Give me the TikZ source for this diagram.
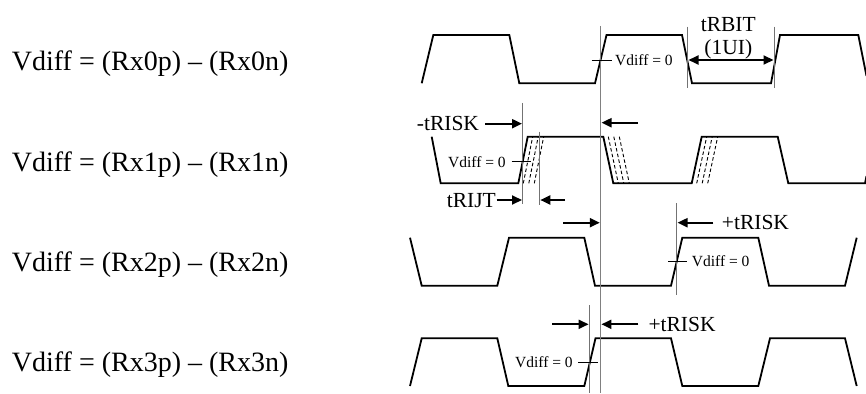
\documentclass[tikz,border=0pt]{standalone}
\usepackage{fontspec}
\setmainfont{Liberation Serif}
\usetikzlibrary{arrows.meta}
\tikzset{
 wave/.style={line width=1.8pt, line join=miter},
 jit/.style={line width=0.9pt, dash pattern=on 3.5pt off 2.3pt},
 guide/.style={line width=1.1pt, draw=black!55},
 mainguide/.style={line width=1.4pt, draw=black!50},
 vtick/.style={line width=0.8pt},
 meas/.style={line width=2pt, -{Triangle[length=10pt,width=9pt]}},
 dmeas/.style={line width=2pt, {Triangle[length=10pt,width=9pt]}-{Triangle[length=10pt,width=9pt]}},
 lbl/.style={font=\fontsize{28}{32}\selectfont, inner sep=0pt, anchor=base west},
 mid/.style={font=\fontsize{21.5}{24}\selectfont, inner sep=0pt},
 small/.style={font=\fontsize{15.5}{18}\selectfont, inner sep=0pt, anchor=base west},
}
\begin{document}
\begin{tikzpicture}[x=1pt,y=-1pt]
\useasboundingbox (0,0) rectangle (866,393);

% left labels
\node[lbl] (l0) at (11.7,71) {Vdiff = (Rx0p) \textendash{} (Rx0n)};
\node[lbl] (l1) at (11.7,171.7) {Vdiff = (Rx1p) \textendash{} (Rx1n)};
\node[lbl] (l2) at (11.7,271) {Vdiff = (Rx2p) \textendash{} (Rx2n)};
\node[lbl] (l3) at (11.7,371.7) {Vdiff = (Rx3p) \textendash{} (Rx3n)};

% waveforms
\draw[wave] (421.7,83.3) -- (433.3,35) -- (509.3,35) -- (519.3,83.3) -- (595,83.3) -- (606.5,35) -- (682,35) -- (692,83.3) -- (771,83.3) -- (780,35) -- (858.3,35) -- (866.5,76);
\draw[wave] (431.7,136.7) -- (440.7,183.3) -- (518.3,183.3) -- (527.7,136.7) -- (603.3,136.7) -- (613.3,183.3) -- (691.7,183.3) -- (701.7,136.7) -- (777.7,136.7) -- (788.3,183.3) -- (865,183.3) -- (866.5,176);
\draw[wave] (410,237.7) -- (421.7,285.7) -- (497.3,285.7) -- (509,237.7) -- (584.3,237.7) -- (595,285.7) -- (671,285.7) -- (682.3,237.7) -- (758.3,237.7) -- (769,285.7) -- (845,285.7) -- (856.7,237.7);
\draw[wave] (410,386) -- (421.7,338.3) -- (497.3,338.3) -- (508.3,386) -- (584.3,386) -- (595.5,338.3) -- (671,338.3) -- (682.3,386) -- (758.3,386) -- (770,338.3) -- (845,338.3) -- (856.7,386);

% jitter dashes on row 1
\foreach \d in {5,10.5,16}{
  \draw[jit] (518.3+\d,183.3) -- (527.7+\d,136.7);
  \draw[jit] (603.3+\d,136.7) -- (613.3+\d,183.3);
  \draw[jit] (691.7+\d,183.3) -- (701.7+\d,136.7);
}

% guide lines
\draw[mainguide] (600.5,26) -- (600.5,393);
\draw[guide] (687.7,26.7) -- (687.7,88.3);
\draw[guide] (774.3,26.7) -- (774.3,88.3);
\draw[guide] (522.7,103) -- (522.7,204);
\draw[guide] (539.5,131.7) -- (539.5,205);
\draw[guide] (676.7,203.3) -- (676.7,295);
\draw[guide] (589.3,305) -- (589.3,393);

% Vdiff = 0 ticks and labels
\draw[vtick] (591.7,60) -- (611.7,60);
\draw[vtick] (511.7,161.7) -- (530.5,161.7);
\draw[vtick] (668.3,261) -- (686.7,261);
\draw[vtick] (578.3,362.3) -- (598.3,362.3);
\node[small] (v0) at (615,65.3) {Vdiff = 0};
\node[small] (v1) at (448,167) {Vdiff = 0};
\node[small] (v2) at (691.7,266.3) {Vdiff = 0};
\node[small] (v3) at (515,367.6) {Vdiff = 0};

% measurement labels
\node[mid, anchor=base] (tr) at (728.3,31.7) {tRBIT};
\node[mid, anchor=base] (ui) at (728.3,54.5) {(1UI)};
\node[mid, anchor=base west] (nsk) at (416.7,130.5) {-tRISK};
\node[mid, anchor=base west] (jt) at (446.7,207) {tRIJT};
\node[mid, anchor=base west] (psk2) at (721.7,229.7) {+tRISK};
\node[mid, anchor=base west] (psk3) at (648.3,331.3) {+tRISK};

% measurement arrows
\coordinate (bA) at (688.5,60); \coordinate (bB) at (773.5,60);
\draw[dmeas] (bA) -- (bB);
\coordinate (s1a) at (485,123.7); \coordinate (s1b) at (522,123.7);
\draw[meas] (s1a) -- (s1b);
\coordinate (s1c) at (638,122.7); \coordinate (s1d) at (601.5,122.7);
\draw[meas] (s1c) -- (s1d);
\coordinate (j1a) at (496.7,200); \coordinate (j1b) at (522,200);
\draw[meas] (j1a) -- (j1b);
\coordinate (j1c) at (565,200); \coordinate (j1d) at (540.3,200);
\draw[meas] (j1c) -- (j1d);
\coordinate (s2a) at (563.3,222.7); \coordinate (s2b) at (599.8,222.7);
\draw[meas] (s2a) -- (s2b);
\coordinate (s2c) at (713.3,222.7); \coordinate (s2d) at (677.5,222.7);
\draw[meas] (s2c) -- (s2d);
\coordinate (s3a) at (552.3,324.3); \coordinate (s3b) at (588.6,324.3);
\draw[meas] (s3a) -- (s3b);
\coordinate (s3c) at (638.3,324.3); \coordinate (s3d) at (601.4,324.3);
\draw[meas] (s3c) -- (s3d);
\end{tikzpicture}
\end{document}
